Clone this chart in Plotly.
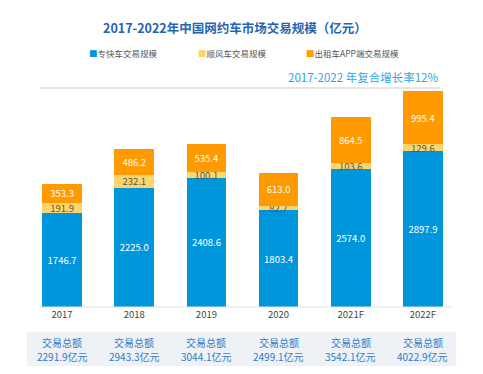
import plotly.graph_objects as go

years = ["2017", "2018", "2019", "2020", "2021F", "2022F"]
zhuankuai = [1746.7, 2225.0, 2408.6, 1803.4, 2574.0, 2897.9]
shunfeng = [191.9, 232.1, 100.1, 82.7, 103.6, 129.6]
chuzu = [353.3, 486.2, 535.4, 613.0, 864.5, 995.4]
totals = ["2291.9", "2943.3", "3044.1", "2499.1", "3542.1", "4022.9"]
series_names = ["专快车交易规模", "顺风车交易规模", "出租车APP端交易规模"]
colors = ["#0096DB", "#FFD46B", "#FF9A00"]
text_colors = ["#FFFFFF", "#555555", "#FFFFFF"]

FONT = "Noto Sans CJK SC"
W, H = 483, 374
ml, mr, mt, mb = 26, 24, 88, 67
pw, ph = W - ml - mr, H - mt - mb


def py(p):
    return (H - mb - p) / ph


def px(p):
    return (p - ml) / pw


fig = go.Figure()
for name, vals, c, tc in zip(series_names, [zhuankuai, shunfeng, chuzu], colors, text_colors):
    fig.add_trace(go.Bar(
        x=years, y=vals, name=name, marker=dict(color=c, line=dict(width=0)),
        text=[f"{v:.1f}" for v in vals], textposition="inside",
        insidetextanchor="middle", constraintext="none",
        textfont=dict(family=FONT, size=9.5, color=tc),
        showlegend=False, hoverinfo="skip",
    ))

annotations = [
    dict(text="<b>2017-2022年中国网约车市场交易规模（亿元）</b>", x=px(235), y=py(27),
         xref="paper", yref="paper", showarrow=False,
         font=dict(family=FONT, size=12.5, color="#2466B2"), xanchor="center", yanchor="middle"),
    dict(text="2017-2022 年复合增长率12%", x=px(440), y=py(77), xref="paper", yref="paper",
         showarrow=False, font=dict(family=FONT, size=11.5, color="#2BA6E6"),
         xanchor="right", yanchor="middle"),
]
leg_x = [87, 196, 304]
for lx, name, c in zip(leg_x, series_names, colors):
    annotations.append(dict(
        text=f"<span style='color:{c}'>■</span>{name}", x=px(lx), y=py(53),
        xref="paper", yref="paper", showarrow=False, xanchor="left", yanchor="middle",
        font=dict(family=FONT, size=8.5, color="#555555")))
for i, t in enumerate(totals):
    for line_text, p in (("交易总额", 342.5), (f"{t}亿元", 356.5)):
        annotations.append(dict(
            text=line_text, x=i, y=py(p), xref="x", yref="paper",
            showarrow=False, xanchor="center", yanchor="middle", borderpad=0,
            font=dict(family=FONT, size=10, color="#2F7CC4")))

shapes = [
    dict(type="line", xref="paper", yref="paper", x0=px(40), x1=px(440), y0=py(88), y1=py(88),
         line=dict(color="#CCCCCC", width=1.2)),
    dict(type="line", xref="paper", yref="paper", x0=px(40), x1=px(452), y0=0, y1=0,
         line=dict(color="#E3E3E3", width=1)),
    dict(type="rect", xref="paper", yref="paper", x0=px(27), x1=px(456), y0=py(366), y1=py(332),
         fillcolor="#EEF1F5", line=dict(width=0), layer="below"),
]

fig.update_layout(
    width=W, height=H, margin=dict(l=ml, r=mr, t=mt, b=mb),
    barmode="stack", bargap=0.45,
    paper_bgcolor="white", plot_bgcolor="white",
    font=dict(family=FONT),
    xaxis=dict(type="category", categoryorder="array", categoryarray=years,
               range=[-0.5, len(years) - 0.5], showline=False, showgrid=False, ticks="",
               zeroline=False, tickfont=dict(family=FONT, size=9.5, color="#444444"),
               fixedrange=True),
    yaxis=dict(range=[0, 4022.9 * ph / 216], visible=False, showgrid=False, zeroline=False),
    annotations=annotations, shapes=shapes, showlegend=False,
)
fig.write_html("out.html", config={"displayModeBar": False},
               post_script="document.body.style.margin='0';")
